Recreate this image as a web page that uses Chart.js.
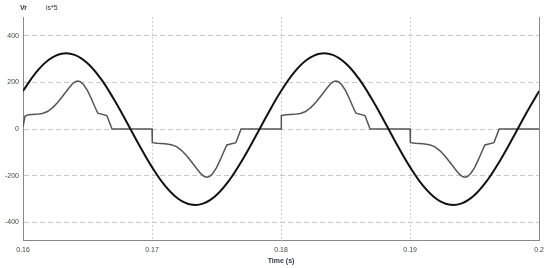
<!DOCTYPE html>
<html>
<head>
<meta charset="utf-8">
<script src="https://cdn.jsdelivr.net/npm/chart.js@4"></script>
<style>
  html, body { margin: 0; padding: 0; background: #fff; }
  #wrap { width: 550px; height: 268px; }
</style>
</head>
<body>
<div id="wrap"><canvas id="myChart"></canvas></div>
<script>
// series names
const seriesNames = ["Vr", "is*5"];

// Vr, one sample every 1 ms
const vrTime = [0.160, 0.161, 0.162, 0.163, 0.164, 0.165, 0.166, 0.167, 0.168, 0.169,
                0.170, 0.171, 0.172, 0.173, 0.174, 0.175, 0.176, 0.177, 0.178, 0.179,
                0.180, 0.181, 0.182, 0.183, 0.184, 0.185, 0.186, 0.187, 0.188, 0.189,
                0.190, 0.191, 0.192, 0.193, 0.194, 0.195, 0.196, 0.197, 0.198, 0.199, 0.200];
const vrValue = [163, 242, 297, 323, 318, 282, 218, 132, 34, -68,
                 -163, -242, -297, -323, -318, -282, -218, -132, -34, 68,
                 163, 242, 297, 323, 318, 282, 218, 132, 34, -68,
                 -163, -242, -297, -323, -318, -282, -218, -132, -34, 68, 163];

// is*5 (grey trace)
const isTime = [0.16000, 0.16015, 0.1604, 0.1610, 0.1615, 0.1619, 0.1623, 0.1627, 0.1631, 0.1635, 0.1638, 0.16405, 0.16425, 0.16445, 0.1647, 0.1650, 0.1653, 0.16555, 0.1658, 0.1665, 0.1669,
                0.17000, 0.17002, 0.1704, 0.1710, 0.1715, 0.1719, 0.1723, 0.1727, 0.1731, 0.1735, 0.1738, 0.17405, 0.17425, 0.17445, 0.1747, 0.1750, 0.1753, 0.17555, 0.1758, 0.1765, 0.1769,
                0.18000, 0.18002, 0.1804, 0.1810, 0.1815, 0.1819, 0.1823, 0.1827, 0.1831, 0.1835, 0.1838, 0.18405, 0.18425, 0.18445, 0.1847, 0.1850, 0.1853, 0.18555, 0.1858, 0.1865, 0.1869,
                0.19000, 0.19002, 0.1904, 0.1910, 0.1915, 0.1919, 0.1923, 0.1927, 0.1931, 0.1935, 0.1938, 0.19405, 0.19425, 0.19445, 0.1947, 0.1950, 0.1953, 0.19555, 0.1958, 0.1965, 0.1969,
                0.2000];
const isValue = [10, 55, 61, 63, 67, 75, 92, 115, 143, 172, 192, 203, 206, 203, 190, 165, 130, 98, 68, 58, 0,
                 0, -58, -61, -63, -67, -75, -92, -115, -143, -172, -192, -203, -206, -203, -190, -165, -130, -98, -68, -58, 0,
                 0, 58, 61, 63, 67, 75, 92, 115, 143, 172, 192, 203, 206, 203, 190, 165, 130, 98, 68, 58, 0,
                 0, -58, -61, -63, -67, -75, -92, -115, -143, -172, -192, -203, -206, -203, -190, -165, -130, -98, -68, -58, 0,
                 0];

// tick labels
const xTicks = [0.16, 0.17, 0.18, 0.19, 0.2];
const yTicks = [-400, -200, 0, 200, 400];

const vrPoints = vrTime.map((t, i) => ({ x: t, y: vrValue[i] }));
const isPoints = isTime.map((t, i) => ({ x: t, y: isValue[i] }));

// names drawn in the top-left corner
const nameLabels = {
    id: 'nameLabels',
    afterDraw(chart) {
        const ctx = chart.ctx;
        ctx.save();
        ctx.textBaseline = 'middle';
        ctx.fillStyle = '#333';
        ctx.font = 'bold 7px "Liberation Sans", Arial, sans-serif';
        ctx.fillText(seriesNames[0], 20, 8);
        ctx.font = '7px "Liberation Sans", Arial, sans-serif';
        ctx.fillText(seriesNames[1], 46, 8);
        ctx.restore();
    }
};

const ctx1 = document.getElementById('myChart');
const myChart = new Chart(ctx1, {
    type: 'line',
    data: {
        datasets: [{
            label: seriesNames[0],
            data: vrPoints,
            borderColor: '#111',
            borderWidth: 2,
            pointRadius: 0,
            tension: 0.4,
            order: 0
        }, {
            label: seriesNames[1],
            data: isPoints,
            borderColor: '#555',
            borderWidth: 1.5,
            pointRadius: 0,
            tension: 0,
            order: 1
        }]
    },
    options: {
        responsive: true,
        maintainAspectRatio: false,
        animation: false,
        layout: { padding: { left: 0, right: 7, top: 17, bottom: 0 } },
        plugins: {
            legend: { display: false },
            tooltip: { enabled: false }
        },
        scales: {
            x: {
                type: 'linear',
                min: 0.16,
                max: 0.2,
                afterBuildTicks: (scale) => { scale.ticks = xTicks.map(v => ({ value: v })); },
                afterFit: (scale) => { scale.height = 28; },
                ticks: {
                    padding: 6,
                    color: '#3c463c',
                    font: { size: 7, family: '"Liberation Sans", Arial, sans-serif' },
                    maxRotation: 0,
                    callback: (v) => String(Number(v.toFixed(2)))
                },
                grid: {
                    drawTicks: false,
                    lineWidth: 1,
                    color: (c) => {
                        if (!c.tick) return '#ccc';
                        if (Math.abs(c.tick.value - 0.16) < 1e-9) return 'rgba(0,0,0,0)';
                        if (Math.abs(c.tick.value - 0.2) < 1e-9) return '#888';
                        return '#d0d0d0';
                    }
                },
                border: {
                    display: true,
                    color: '#888',
                    width: 1,
                    dash: (c) => {
                        if (c.tick && Math.abs(c.tick.value - 0.2) < 1e-9) return [];
                        return [2, 2];
                    }
                },
                title: {
                    display: true,
                    text: 'Time (s)',
                    color: '#2e3a46',
                    padding: { top: 1, bottom: 3 },
                    font: { size: 7, weight: 'bold', family: '"Liberation Sans", Arial, sans-serif' }
                }
            },
            y: {
                min: -475,
                max: 480,
                afterBuildTicks: (scale) => { scale.ticks = yTicks.map(v => ({ value: v })); },
                afterFit: (scale) => { scale.width = 23; },
                ticks: {
                    padding: 4,
                    color: '#3c463c',
                    font: { size: 7, family: '"Liberation Sans", Arial, sans-serif' }
                },
                grid: {
                    drawTicks: false,
                    color: '#c8c8c8',
                    lineWidth: 1
                },
                border: {
                    display: true,
                    color: '#888',
                    width: 1,
                    dash: [5, 3]
                }
            }
        }
    },
    plugins: [nameLabels]
});
</script>
</body>
</html>
